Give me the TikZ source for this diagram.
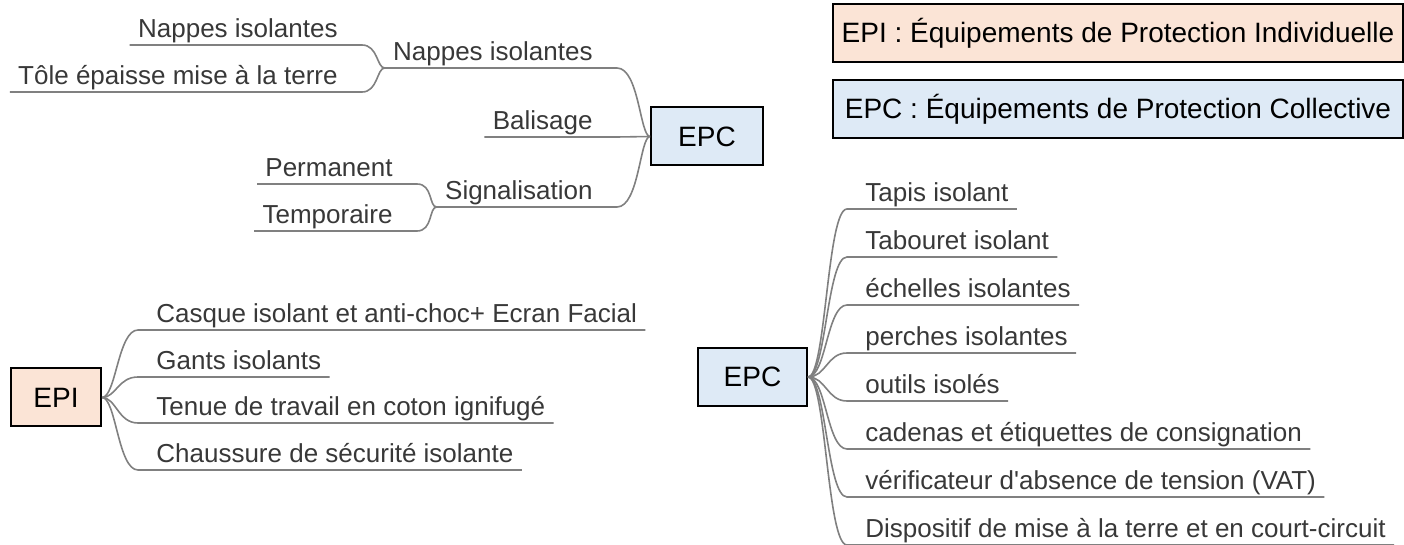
\documentclass[tikz,border=0pt]{standalone}
\usepackage{fontspec}
\setmainfont{Liberation Sans}
\usepackage{tikz}
\usetikzlibrary{positioning}
\definecolor{epiFill}{HTML}{FBE4D6}
\definecolor{epcFill}{HTML}{DEEAF6}
\definecolor{branchGray}{HTML}{808080}
\definecolor{leafText}{HTML}{383838}
\newcommand{\leaffont}{\fontsize{13}{15}\selectfont}
\newcommand{\topicfont}{\fontsize{14}{16}\selectfont}
\tikzset{
  leaf/.style={font=\leaffont, text=leafText, inner xsep=4pt, inner ysep=1.3pt,
    text height=0.75em, text depth=0.22em},
  leafL/.style={leaf, anchor=south east},
  leafR/.style={leaf, anchor=south west},
  topic/.style={draw=black, line width=1pt, font=\topicfont, inner sep=0pt,
    minimum height=29pt},
  legend/.style={topic, anchor=north west, minimum width=285pt},
  branch/.style={draw=branchGray, line width=0.8pt},
}

\begin{document}
\begin{tikzpicture}[x=0.5pt,y=-0.5pt]
    \useasboundingbox (0,0) rectangle (1404,545);
    \clip (0,0) rectangle (1404,545);
    % legend
    \node[legend, fill=epiFill] (legEPI) at (832,3)
        {EPI : Équipements de Protection Individuelle};
    \node[legend, fill=epcFill, below=8pt of legEPI] (legEPC)
        {EPC : Équipements de Protection Collective};
    % topics
    \node[topic, fill=epcFill, minimum width=56pt] (epcTop) at (707,136.5) {EPC};
    \node[topic, fill=epiFill, minimum width=45pt] (epi) at (56,397.5) {EPI};
    \node[topic, fill=epcFill, minimum width=54.5pt] (epcBot) at (752.5,377) {EPC};
    % top tree, growing left
    \node[leafL] (nappesMid) at (601,68) {Nappes isolantes};
    \node[leafL] (balisage) at (601,137) {Balisage};
    \node[leafL] (signal) at (601,207) {Signalisation};
    \node[leafL] (nappes) at (346,45) {Nappes isolantes};
    \node[leafL] (tole) at (346,92) {Tôle épaisse mise à la terre};
    \node[leafL] (perm) at (401,184) {Permanent};
    \node[leafL] (temp) at (401,231) {Temporaire};
    % EPI tree
    \node[leafR] (casque) at (148,330) {Casque isolant et anti-choc+ Ecran Facial};
    \node[leafR] (gants) at (148,377) {Gants isolants};
    \node[leafR] (tenue) at (148,423) {Tenue de travail en coton ignifugé};
    \node[leafR] (chaussure) at (148,470) {Chaussure de sécurité isolante};
    % EPC tree
    \node[leafR] (tapis) at (857,209) {Tapis isolant};
    \node[leafR] (tabouret) at (857,257) {Tabouret isolant};
    \node[leafR] (echelles) at (857,305) {échelles isolantes};
    \node[leafR] (perches) at (857,353) {perches isolantes};
    \node[leafR] (outils) at (857,401) {outils isolés};
    \node[leafR] (cadenas) at (857,449) {cadenas et étiquettes de consignation};
    \node[leafR] (vat) at (857,497) {vérificateur d\textquotesingle absence de tension (VAT)};
    \node[leafR] (dispositif) at (857,545) {Dispositif de mise à la terre et en court-circuit};
    % branches
    \draw[branch] (epcTop.west) .. controls +(-10,0) and +(22,0) .. ([shift={(16,0)}]nappesMid.south east) -- (nappesMid.south west);
    \draw[branch] (epcTop.west) -- ([shift={(16,0)}]balisage.south east) -- (balisage.south west);
    \draw[branch] (epcTop.west) .. controls +(-10,0) and +(22,0) .. ([shift={(16,0)}]signal.south east) -- (signal.south west);
    \draw[branch] (nappesMid.south west) .. controls +(-8,0) and +(16,0) .. ([shift={(16,0)}]nappes.south east) -- (nappes.south west);
    \draw[branch] (nappesMid.south west) .. controls +(-8,0) and +(16,0) .. ([shift={(16,0)}]tole.south east) -- (tole.south west);
    \draw[branch] (signal.south west) .. controls +(-8,0) and +(16,0) .. ([shift={(16,0)}]perm.south east) -- (perm.south west);
    \draw[branch] (signal.south west) .. controls +(-8,0) and +(16,0) .. ([shift={(16,0)}]temp.south east) -- (temp.south west);
    \draw[branch] (epi.east) .. controls +(14,0) and +(-20,0) .. ([shift={(-10,0)}]casque.south west) -- (casque.south east);
    \draw[branch] (epi.east) .. controls +(14,0) and +(-20,0) .. ([shift={(-10,0)}]gants.south west) -- (gants.south east);
    \draw[branch] (epi.east) .. controls +(14,0) and +(-20,0) .. ([shift={(-10,0)}]tenue.south west) -- (tenue.south east);
    \draw[branch] (epi.east) .. controls +(14,0) and +(-20,0) .. ([shift={(-10,0)}]chaussure.south west) -- (chaussure.south east);
    \draw[branch] (epcBot.east) .. controls +(18,0) and +(-20,0) .. ([shift={(-10,0)}]tapis.south west) -- (tapis.south east);
    \draw[branch] (epcBot.east) .. controls +(18,0) and +(-20,0) .. ([shift={(-10,0)}]tabouret.south west) -- (tabouret.south east);
    \draw[branch] (epcBot.east) .. controls +(18,0) and +(-20,0) .. ([shift={(-10,0)}]echelles.south west) -- (echelles.south east);
    \draw[branch] (epcBot.east) .. controls +(18,0) and +(-20,0) .. ([shift={(-10,0)}]perches.south west) -- (perches.south east);
    \draw[branch] (epcBot.east) .. controls +(18,0) and +(-20,0) .. ([shift={(-10,0)}]outils.south west) -- (outils.south east);
    \draw[branch] (epcBot.east) .. controls +(18,0) and +(-20,0) .. ([shift={(-10,0)}]cadenas.south west) -- (cadenas.south east);
    \draw[branch] (epcBot.east) .. controls +(18,0) and +(-20,0) .. ([shift={(-10,0)}]vat.south west) -- (vat.south east);
    \draw[branch] (epcBot.east) .. controls +(18,0) and +(-20,0) .. ([shift={(-10,0)}]dispositif.south west) -- (dispositif.south east);
\end{tikzpicture}
\end{document}
